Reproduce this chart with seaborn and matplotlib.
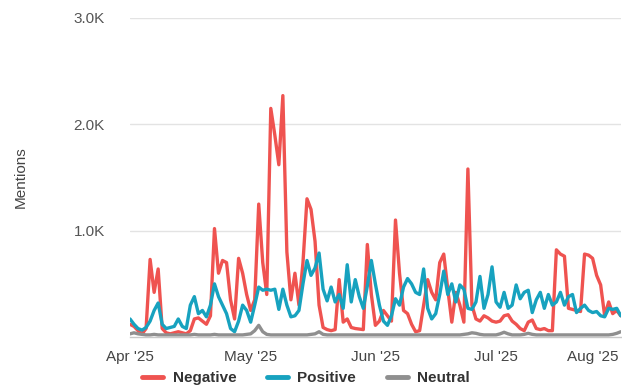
import numpy as np
import pandas as pd
import seaborn as sns
import matplotlib.pyplot as plt
import matplotlib.dates as mdates
import matplotlib.transforms as mtransforms
from matplotlib.ticker import FuncFormatter

dates = pd.date_range("2025-04-01", "2025-08-01", freq="D")

negative = [
    120, 100, 60, 30, 80, 730, 420, 640, 80, 40,
    30, 40, 50, 40, 30, 60, 170, 180, 150, 120,
    200, 1020, 600, 720, 700, 350, 170, 740, 600, 400,
    250, 350, 1250, 700, 400, 2150, 1900, 1620, 2270, 800,
    350, 600, 300, 700, 1300, 1200, 900, 300, 90, 70,
    60, 70, 540, 140, 170, 90, 80, 75, 70, 870,
    400, 110, 150, 250, 200, 150, 1100, 600, 250, 220,
    120, 50, 60, 300, 540, 420, 350, 700, 780, 450,
    140, 420, 300, 140, 1580, 300, 170, 150, 200, 180,
    150, 140, 150, 200, 210, 150, 120, 80, 60, 140,
    160, 80, 70, 80, 60, 60, 820, 780, 760, 270,
    260, 250, 240, 780, 770, 740, 580, 490, 200, 330,
    220, 250, 200,
]
positive = [
    170, 120, 80, 65, 90, 150, 250, 320, 120, 80,
    90, 100, 170, 100, 80, 300, 380, 220, 250, 190,
    300, 500, 380, 300, 220, 80, 50, 150, 300, 250,
    140, 300, 470, 440, 450, 440, 450, 260, 450, 300,
    190, 200, 250, 500, 720, 580, 650, 790, 450, 340,
    470, 330, 400, 270, 680, 330, 540, 380, 270, 480,
    720, 500, 300, 150, 110, 200, 360, 300, 470, 550,
    500, 420, 400, 640, 270, 170, 220, 400, 620, 400,
    500, 330, 490, 450, 270, 260, 330, 570, 270, 400,
    660, 330, 280, 420, 270, 300, 490, 360, 420, 440,
    230, 350, 420, 270, 400, 300, 330, 420, 300, 380,
    400, 230, 270, 300, 250, 230, 240, 200, 190, 270,
    260, 270, 200,
]
neutral = [
    30, 40, 30, 25, 20, 20, 25, 20, 20, 20,
    20, 20, 20, 20, 20, 20, 25, 20, 20, 20,
    20, 25, 20, 20, 20, 20, 20, 20, 20, 25,
    30, 60, 110, 50, 25, 20, 20, 20, 20, 20,
    20, 20, 20, 20, 20, 25, 30, 50, 25, 20,
    20, 20, 20, 20, 20, 20, 20, 20, 20, 20,
    20, 20, 20, 20, 20, 20, 20, 20, 20, 20,
    20, 20, 20, 20, 20, 20, 20, 20, 20, 20,
    20, 20, 20, 25, 30, 40, 35, 25, 20, 20,
    20, 20, 30, 45, 30, 20, 20, 20, 25, 35,
    25, 20, 20, 20, 20, 20, 20, 20, 20, 20,
    20, 20, 20, 20, 20, 20, 20, 20, 20, 20,
    25, 35, 50,
]

series = ["Negative", "Positive", "Neutral"]
colors = {"Negative": "#ef5350", "Positive": "#17a2bf", "Neutral": "#8f8f8f"}

df = pd.concat([
    pd.DataFrame({"date": dates, "mentions": negative, "sentiment": "Negative"}),
    pd.DataFrame({"date": dates, "mentions": positive, "sentiment": "Positive"}),
    pd.DataFrame({"date": dates, "mentions": neutral, "sentiment": "Neutral"}),
])

sns.set_theme(style="white")
plt.rcParams["font.family"] = ["Liberation Sans", "DejaVu Sans"]

fig = plt.figure(figsize=(6.22, 3.91), dpi=100)
ax = fig.add_axes([0.209, 0.138, 0.789, 0.816])

sns.lineplot(data=df, x="date", y="mentions", hue="sentiment", hue_order=series,
             palette=colors, linewidth=2.4, ax=ax, legend=False,
             solid_joinstyle="round", solid_capstyle="round")

ax.set_ylim(0, 3000)
ax.set_xlim(dates[0], dates[-1])
ax.set_yticks([1000, 2000, 3000])
ax.yaxis.set_major_formatter(FuncFormatter(lambda v, p: f"{v / 1000:.1f}K"))
ax.xaxis.set_major_locator(mdates.MonthLocator())
ax.xaxis.set_major_formatter(mdates.DateFormatter("%b '%y"))

ax.grid(axis="y", color="#e3e3e3", linewidth=1)
ax.set_axisbelow(True)
for side in ["left", "right", "top"]:
    ax.spines[side].set_visible(False)
ax.spines["bottom"].set_color("#c8c8c8")
ax.spines["bottom"].set_linewidth(1)

ax.tick_params(axis="y", length=0, pad=18, labelsize=11, labelcolor="#555555")
ax.tick_params(axis="x", length=7, width=1, color="#c8c8c8", pad=2,
               labelsize=11, labelcolor="#444444")

# last month label sits on the right edge, nudge it inside
fig.canvas.draw()
last = ax.get_xticklabels()[-1]
last.set_transform(last.get_transform() +
                   mtransforms.ScaledTranslation(-20 / 72, 0, fig.dpi_scale_trans))

ax.set_xlabel("")
ax.set_ylabel("Mentions", fontsize=11, color="#444444", labelpad=33)

handles = [plt.Line2D([], [], color=colors[s], linewidth=3.5) for s in series]
fig.legend(handles, series, loc="center", bbox_to_anchor=(0.492, 0.032), ncol=3,
           frameon=False, handlelength=1.4, columnspacing=2.0, handletextpad=0.6,
           prop={"weight": "bold", "size": 11})
for t in fig.legends[0].get_texts():
    t.set_color("#333333")

fig.savefig("out.png", dpi=100)
